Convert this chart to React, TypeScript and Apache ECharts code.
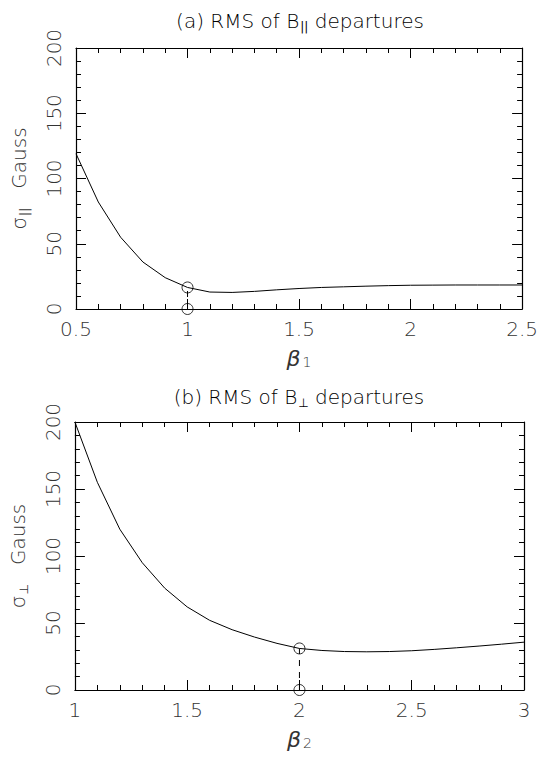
import React, { useEffect, useRef } from "react";
import * as echarts from "echarts";

// Panel (a): RMS of B_parallel departures vs beta_1
const beta1 = [0.5, 0.6, 0.7, 0.8, 0.9, 1.0, 1.1, 1.2, 1.3, 1.4, 1.5, 1.6, 1.7, 1.8, 1.9, 2.0, 2.1, 2.2, 2.3, 2.4, 2.5];
const sigmaPar = [119, 82, 55, 36, 24, 16.5, 13, 12.7, 13.5, 14.7, 15.7, 16.5, 17, 17.5, 17.9, 18.2, 18.3, 18.4, 18.4, 18.4, 18.4];
const markPar = [1.0, 16.5];

// Panel (b): RMS of B_perp departures vs beta_2
const beta2 = [1.0, 1.1, 1.2, 1.3, 1.4, 1.5, 1.6, 1.7, 1.8, 1.9, 2.0, 2.1, 2.2, 2.3, 2.4, 2.5, 2.6, 2.7, 2.8, 2.9, 3.0];
const sigmaPerp = [200, 155, 120, 95, 76, 62, 52, 45, 39.5, 34.8, 31, 29.5, 28.7, 28.5, 28.7, 29.3, 30.3, 31.5, 32.8, 34.2, 35.7];
const markPerp = [2.0, 31];

const xRange1 = [0.5, 2.5];
const xRange2 = [1, 3];
const yRange = [0, 200];

const FONT = "DejaVu Sans";
const INK = "#333";

function panelOption(p: {
  grid: { left: number; top: number; width: number; height: number };
  xRange: number[];
  xs: number[];
  ys: number[];
  mark: number[];
  title: string;
  titleY: number;
  xName: string;
  yName: string;
}) {
  const lbl = { fontFamily: FONT, fontSize: 20, color: INK, fontWeight: 200 as any };
  const rich = {
    m: { fontFamily: FONT, fontSize: 20, color: INK, fontWeight: 200 as any, lineHeight: 22, verticalAlign: "top" as any, padding: [0, 0, 7, 0] },
    g: { fontFamily: FONT, fontSize: 22, color: INK, fontStyle: "italic" as any, lineHeight: 22, verticalAlign: "top" as any, padding: [0, 0, 7, 0] },
    s: { fontFamily: FONT, fontSize: 14, color: INK, fontWeight: 200 as any, lineHeight: 15, verticalAlign: "bottom" as any, padding: [0, 0, 0, 2] },
    p: { fontFamily: FONT, fontSize: 12, color: INK, lineHeight: 15, verticalAlign: "bottom" as any, padding: [0, 0, 0, 1] },
  };
  const axisCommon = {
    type: "value" as const,
    axisLine: { show: true, onZero: false, lineStyle: { color: "#000", width: 1.2 } },
    axisTick: { show: true, inside: true, length: 10, lineStyle: { color: "#000", width: 1 } },
    minorTick: { show: true, splitNumber: 5, length: 5, lineStyle: { color: "#000", width: 1 } },
    splitLine: { show: false },
    minorSplitLine: { show: false },
  };
  return {
    animation: false,
    grid: p.grid,
    xAxis: [
      {
        ...axisCommon,
        min: p.xRange[0],
        max: p.xRange[1],
        interval: 0.5,
        position: "bottom",
        axisLabel: { show: true, ...lbl, margin: 10 },
        name: p.xName,
        nameLocation: "middle",
        nameGap: 38,
        nameTextStyle: { rich },
      },
      {
        ...axisCommon,
        min: p.xRange[0],
        max: p.xRange[1],
        interval: 0.5,
        position: "top",
        axisLabel: { show: false },
      },
    ],
    yAxis: [
      {
        ...axisCommon,
        min: yRange[0],
        max: yRange[1],
        interval: 50,
        position: "left",
        axisLabel: { show: true, ...lbl, rotate: 90, margin: 12 },
        name: p.yName,
        nameLocation: "middle",
        nameRotate: 90,
        nameGap: 44,
        nameTextStyle: { rich },
      },
      {
        ...axisCommon,
        min: yRange[0],
        max: yRange[1],
        interval: 50,
        position: "right",
        axisLabel: { show: false },
      },
    ],
    graphic: [
      {
        type: "text",
        x: p.grid.left + p.grid.width / 2,
        y: p.titleY,
        style: { text: p.title, rich, align: "center", verticalAlign: "middle" },
      },
    ],
    series: [
      {
        type: "line",
        data: p.xs.map((x, i) => [x, p.ys[i]]),
        symbol: "none",
        lineStyle: { color: "#000", width: 1 },
      },
      {
        type: "line",
        data: [[p.mark[0], 0], [p.mark[0], p.mark[1]]],
        symbol: "none",
        lineStyle: { color: "#000", width: 1, type: [6, 6] },
      },
      {
        type: "scatter",
        data: [[p.mark[0], p.mark[1]], [p.mark[0], 0]],
        symbol: "circle",
        symbolSize: 11,
        clip: false,
        itemStyle: { color: "rgba(0,0,0,0)", borderColor: "#000", borderWidth: 1 },
        z: 5,
      },
    ],
  };
}

export default function App() {
  const refA = useRef<HTMLDivElement>(null);
  const refB = useRef<HTMLDivElement>(null);
  useEffect(() => {
    document.body.style.margin = "0";
    const a = echarts.init(refA.current!, null, { renderer: "svg" });
    const b = echarts.init(refB.current!, null, { renderer: "svg" });
    a.setOption(
      panelOption({
        grid: { left: 76, top: 48, width: 448, height: 266 },
        xRange: xRange1,
        xs: beta1,
        ys: sigmaPar,
        mark: markPar,
        title: "{m|(a) RMS of B}{p|||}{m| departures}",
        titleY: 22,
        xName: "{g|β}{s|1}",
        yName: "{m|σ}{p|||}{m|   Gauss}",
      }) as any
    );
    b.setOption(
      panelOption({
        grid: { left: 74, top: 41, width: 450, height: 271 },
        xRange: xRange2,
        xs: beta2,
        ys: sigmaPerp,
        mark: markPerp,
        title: "{m|(b) RMS of B}{p|⊥}{m| departures}",
        titleY: 17,
        xName: "{g|β}{s|2}",
        yName: "{m|σ}{p|⊥}{m|   Gauss}",
      }) as any
    );
    return () => {
      a.dispose();
      b.dispose();
    };
  }, []);
  return (
    <div style={{ width: 541, height: 762, background: "#fff" }}>
      <div ref={refA} style={{ width: 541, height: 381 }} />
      <div ref={refB} style={{ width: 541, height: 381 }} />
    </div>
  );
}
